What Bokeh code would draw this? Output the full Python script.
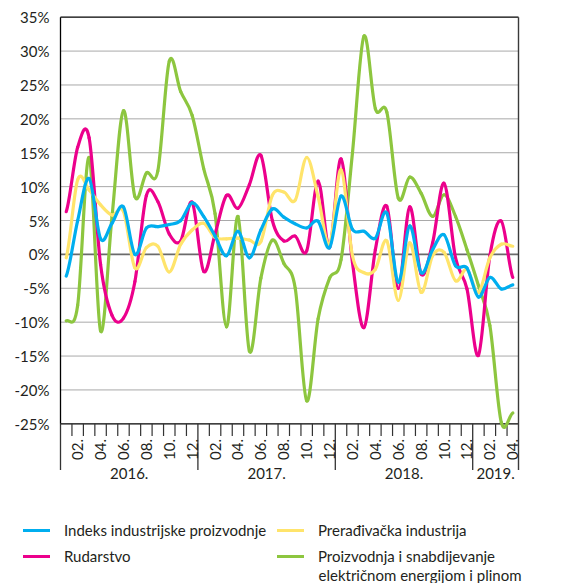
import numpy as np
from bokeh.plotting import figure
from bokeh.models import ColumnDataSource, Range1d, Legend, LegendItem, Label
from bokeh.core.properties import value
from bokeh.embed import file_html
from bokeh.resources import INLINE

# ---------------- data ----------------
years = ["2016.", "2017.", "2018.", "2019."]
months_per_year = [12, 12, 12, 4]
month_names = ["01.", "02.", "03.", "04.", "05.", "06.", "07.", "08.", "09.", "10.", "11.", "12."]

# Indeks industrijske proizvodnje (%)
industrija = [-3.2, 5.0, 11.2, 2.3, 4.6, 7.0, 0.0, 3.9, 4.1, 4.4,
              5.0, 7.6, 5.6, 2.7, -0.2, 3.4, -0.5, 3.6, 6.7, 5.5,
              4.5, 3.9, 4.9, 1.0, 8.6, 3.7, 3.4, 2.4, 6.1, -4.1,
              4.2, -2.7, 0.7, 2.9, -1.7, -2.0, -6.3, -3.4, -5.1, -4.5]
# Rudarstvo (%)
rudarstvo = [6.3, 15.8, 17.2, -1.5, -9.0, -9.4, -4.0, 8.7, 7.8, 3.0,
             2.0, 7.7, -2.5, 3.0, 8.7, 6.8, 10.3, 14.6, 5.0, 2.0,
             2.7, 0.5, 10.8, 1.0, 14.1, -1.2, -10.8, 0.7, 7.1, -5.0,
             7.0, -2.9, 1.7, 10.5, -0.5, -5.1, -14.9, -0.2, 4.9, -3.4]
# Prerađivačka industrija (%)
preradjivacka = [-0.5, 11.0, 9.5, 7.3, 5.8, 6.3, -2.0, 1.0, 1.2, -2.6,
                 1.5, 3.6, 4.6, 2.5, 2.3, 2.4, 2.1, 1.9, 8.7, 9.2,
                 8.0, 14.3, 8.5, 1.5, 12.5, -0.2, -2.7, -2.2, 2.0, -6.8,
                 1.7, -5.6, -0.2, 0.3, -3.9, -2.2, -5.6, -0.5, 1.5, 1.2]
# Proizvodnja i snabdijevanje električnom energijom i plinom (%)
energija = [-9.8, -7.5, 14.3, -11.3, 5.6, 21.2, 8.5, 12.0, 12.3, 28.5,
            24.0, 20.5, 12.7, 6.0, -10.7, 5.6, -14.3, -3.5, 2.1, -1.3,
            -5.0, -21.6, -9.5, -3.5, -0.8, 15.0, 32.2, 21.5, 21.0, 8.3,
            11.4, 9.0, 5.6, 8.8, 5.6, 0.7, -4.6, -10.5, -24.8, -23.4]

y_ticks = [-25, -20, -15, -10, -5, 0, 5, 10, 15, 20, 25, 30, 35]
y_tick_labels = ["-25%", "-20%", "-15%", "-10%", "-5%", "0%", "5%", "10%", "15%", "20%", "25%", "30%", "35%"]

labels = {
    "ind": "Indeks industrijske proizvodnje",
    "pre": "Prerađivačka industrija",
    "rud": "Rudarstvo",
    "ene1": "Proizvodnja i snabdijevanje",
    "ene2": "električnom energijom i plinom",
}

# ---------------- styling ----------------
FONT = "Lato"
TXT = "#231f20"
C_BLUE = "#00aeef"
C_PINK = "#ec008c"
C_YELLOW = "#ffe46b"
C_GREEN = "#8dc63f"
W, H = 561, 583
PX_X = 11.45      # px per month
PX_Y = 6.777      # px per percentage point
LEFT_PX = 60.0    # px of the plot's left edge
TOP35_PX = 16.7   # px of the 35% line

n = sum(months_per_year)
x_c = np.arange(n) + 0.5

x0r = -LEFT_PX / PX_X
x1r = (W - LEFT_PX) / PX_X
y1r = y_ticks[-1] + TOP35_PX / PX_Y
y0r = y1r - H / PX_Y

p = figure(width=W, height=H,
           x_range=Range1d(x0r, x1r), y_range=Range1d(y0r, y1r),
           x_axis_location=None, y_axis_location=None,
           output_backend="svg", toolbar_location=None,
           min_border_left=0, min_border_right=0, min_border_top=0, min_border_bottom=0)
p.outline_line_color = None
p.background_fill_color = "white"
p.xgrid.visible = False
p.ygrid.visible = False

ybot = y_ticks[0]
ytop = y_ticks[-1]

# horizontal grid lines
inner = [t for t in y_ticks if t not in (ybot, ytop, 0)]
p.segment(x0=[0] * len(inner), y0=inner, x1=[n] * len(inner), y1=inner,
          line_color="#a9a9a9", line_width=1)
p.segment(x0=[0], y0=[0], x1=[n], y1=[0], line_color="#6b6b6b", line_width=1.6)

# y tick labels
p.text(x=[-11.0 / PX_X] * len(y_ticks), y=y_ticks, text=y_tick_labels,
       text_align="right", text_baseline="middle",
       text_font=value(FONT), text_font_size="15px", text_color=TXT)

# frame lines
p.segment(x0=[0], y0=[ytop], x1=[n], y1=[ytop], line_color="black", line_width=1.3)
p.segment(x0=[0], y0=[ybot], x1=[n], y1=[ybot], line_color="black", line_width=1.3)
p.segment(x0=[0], y0=[ybot], x1=[0], y1=[ytop], line_color="black", line_width=1.3)
p.segment(x0=[n], y0=[-31.8], x1=[n], y1=[ytop], line_color="#3a3a3a", line_width=1.4)

# month ticks and year separators
starts = np.concatenate([[0], np.cumsum(months_per_year)])
sep = set(starts.tolist())
tick_x = [i for i in range(1, n) if i not in sep]
p.segment(x0=tick_x, y0=[ybot] * len(tick_x), x1=tick_x, y1=[-26.8] * len(tick_x),
          line_color="#333333", line_width=1.2)
sep_x = [s for s in starts.tolist() if s < n]
p.segment(x0=sep_x, y0=[ybot] * len(sep_x), x1=sep_x, y1=[-31.8] * len(sep_x),
          line_color="#333333", line_width=1.3)

# month labels (even months)
ml_x, ml_t = [], []
for yi, cnt in enumerate(months_per_year):
    for m in range(cnt):
        if (m + 1) % 2 == 0:
            ml_x.append(starts[yi] + m + 0.5)
            ml_t.append(month_names[m])
p.text(x=ml_x, y=[-27.25] * len(ml_x), text=ml_t, angle=np.pi / 2,
       text_align="right", text_baseline="middle",
       text_font=value(FONT), text_font_size="15px", text_color=TXT)

# year labels
yl_x = [starts[i] + months_per_year[i] / 2 for i in range(len(years))]
p.text(x=yl_x, y=[-32.4] * len(years), text=years, text_align="center", text_baseline="middle",
       text_font=value(FONT), text_font_size="15px", text_color=TXT)


def bez_source(vals):
    v = np.asarray(vals, dtype=float)
    vp = np.concatenate([[v[0]], v, [v[-1]]])
    k = len(v) - 1
    x0 = x_c[:-1]
    x1 = x_c[1:]
    y0 = v[:-1]
    y1 = v[1:]
    cy0 = y0 + (vp[2:k + 2] - vp[0:k]) / 6.0
    cy1 = y1 - (vp[3:k + 3] - vp[1:k + 1]) / 6.0
    return ColumnDataSource(dict(x0=x0, y0=y0, x1=x1, y1=y1,
                                 cx0=x0 + 1 / 3, cy0=cy0, cx1=x1 - 1 / 3, cy1=cy1))


def curve(vals, color):
    return p.bezier(x0="x0", y0="y0", x1="x1", y1="y1", cx0="cx0", cy0="cy0", cx1="cx1", cy1="cy1",
                    source=bez_source(vals), line_color=color, line_width=3.2, line_cap="round")


r_ene = curve(energija, C_GREEN)
r_rud = curve(rudarstvo, C_PINK)
r_pre = curve(preradjivacka, C_YELLOW)
r_ind = curve(industrija, C_BLUE)

common = dict(orientation="vertical", padding=0, margin=0, spacing=6,
              glyph_width=27, glyph_height=20, label_height=20, label_standoff=14,
              label_text_font=FONT, label_text_font_size="15px", label_text_color=TXT,
              background_fill_alpha=0, border_line_alpha=0)
leg1 = Legend(items=[LegendItem(label=labels["ind"], renderers=[r_ind]),
                     LegendItem(label=labels["rud"], renderers=[r_rud])],
              location=(23, 17), **common)
leg2 = Legend(items=[LegendItem(label=labels["pre"], renderers=[r_pre]),
                     LegendItem(label=labels["ene1"], renderers=[r_ene])],
              location=(277, 17), **common)
p.add_layout(leg1)
p.add_layout(leg2)
p.add_layout(Label(x=(277 + 27 + 14 - LEFT_PX) / PX_X, y=y1r - 574 / PX_Y, text=labels["ene2"],
                   text_font=FONT, text_font_size="15px", text_color=TXT,
                   text_baseline="middle", text_align="left"))

open("out.html", "w").write(file_html(p, INLINE))
